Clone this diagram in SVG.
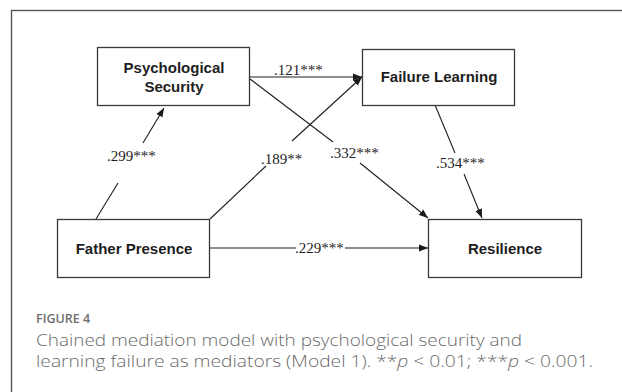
<svg xmlns="http://www.w3.org/2000/svg" width="622" height="392" viewBox="0 0 622 392">
  <defs>
    <marker id="arrow" markerUnits="userSpaceOnUse" markerWidth="10" markerHeight="8" refX="9" refY="4" orient="auto">
      <path d="M0,0.5 L9,4 L0,7.5 Z" fill="#1a1a1a"/>
    </marker>
    <style>
      .box { fill: #ffffff; stroke: #3a3a3a; stroke-width: 1.3; }
      .node-label { font-family: "Liberation Sans", Arial, sans-serif; font-weight: bold; font-size: 15px; fill: #1e1e1e; text-anchor: middle; }
      .edge { fill: none; stroke: #1e1e1e; stroke-width: 1.1; }
      .coef { font-family: "Liberation Serif", "Times New Roman", serif; font-size: 15px; fill: #1e1e1e; }
      .cap-title { font-family: "Open Sans", "Noto Sans", sans-serif; font-weight: 600; font-size: 12.5px; fill: #6e6e6e; }
      .cap { font-family: "Open Sans", "Noto Sans", sans-serif; font-weight: 300; font-size: 17px; fill: #6a6a6a; }
    </style>
  </defs>

  <rect width="622" height="392" fill="#ffffff"/>
  <!-- figure panel border (runs past the right and bottom edges) -->
  <rect x="11.5" y="10.5" width="700" height="500" fill="none" stroke="#555555" stroke-width="1.4"/>

  <!-- connectors -->
  <g id="connectors">
    <!-- Father Presence -> Psychological Security -->
    <line class="edge" x1="96" y1="219" x2="118" y2="183"/>
    <line class="edge" x1="143" y1="143" x2="164" y2="108" marker-end="url(#arrow)"/>
    <text class="coef" x="107" y="161">.299***</text>

    <!-- Psychological Security -> Failure Learning -->
    <line class="edge" x1="250" y1="77" x2="362" y2="77" marker-end="url(#arrow)"/>
    <text class="coef" x="274" y="75">.121***</text>

    <!-- Father Presence -> Failure Learning -->
    <line class="edge" x1="210" y1="219" x2="266" y2="166"/>
    <line class="edge" x1="292" y1="141" x2="362" y2="77" marker-end="url(#arrow)"/>
    <text class="coef" x="261" y="164">.189**</text>

    <!-- Psychological Security -> Resilience -->
    <line class="edge" x1="250" y1="79" x2="333" y2="142"/>
    <line class="edge" x1="360" y1="163" x2="428" y2="218" marker-end="url(#arrow)"/>
    <text class="coef" x="330" y="158">.332***</text>

    <!-- Failure Learning -> Resilience -->
    <line class="edge" x1="435" y1="105" x2="455" y2="153"/>
    <line class="edge" x1="464" y1="174" x2="482" y2="218" marker-end="url(#arrow)"/>
    <text class="coef" x="436" y="168">.534***</text>

    <!-- Father Presence -> Resilience -->
    <line class="edge" x1="210" y1="248" x2="296" y2="248"/>
    <line class="edge" x1="345" y1="248" x2="428" y2="248" marker-end="url(#arrow)"/>
    <text class="coef" x="295" y="253">.229***</text>
  </g>

  <g id="psychological-security">
    <rect class="box" x="97.5" y="47.5" width="152" height="58"/>
    <text class="node-label" x="174" y="73">Psychological</text>
    <text class="node-label" x="174" y="92">Security</text>
  </g>

  <g id="failure-learning">
    <rect class="box" x="362.5" y="49.5" width="152" height="56"/>
    <text class="node-label" x="439" y="82">Failure Learning</text>
  </g>

  <g id="father-presence">
    <rect class="box" x="57.5" y="219.5" width="152" height="58"/>
    <text class="node-label" x="134" y="254">Father Presence</text>
  </g>

  <g id="resilience">
    <rect class="box" x="428.5" y="219.5" width="153" height="58"/>
    <text class="node-label" x="505" y="254">Resilience</text>
  </g>

  <!-- caption -->
  <g id="caption">
    <text class="cap-title" x="36" y="323">FIGURE 4</text>
    <text class="cap" x="36" y="346" textLength="486" lengthAdjust="spacingAndGlyphs">Chained mediation model with psychological security and</text>
    <text class="cap" x="36" y="367" textLength="557" lengthAdjust="spacingAndGlyphs">learning failure as mediators (Model 1). **<tspan font-style="italic">p</tspan> &lt; 0.01; ***<tspan font-style="italic">p</tspan> &lt; 0.001.</text>
  </g>
</svg>
